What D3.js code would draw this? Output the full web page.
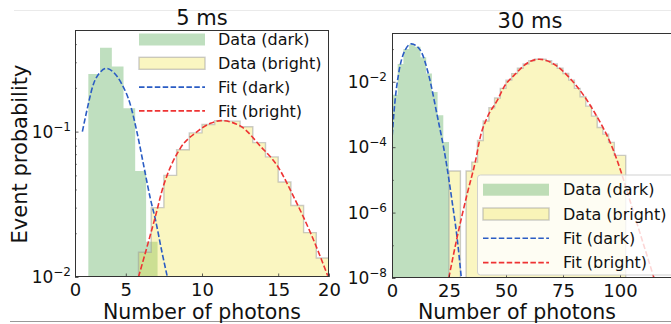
<!DOCTYPE html>
<html>
<head>
<meta charset="utf-8">
<script src="https://cdn.jsdelivr.net/npm/d3@7"></script>
<style>
  body { margin: 0; background: #fff; }
  svg { display: block; }
  text { font-family: "DejaVu Sans", sans-serif; fill: #111; }
</style>
</head>
<body>
<div id="chart"></div>
<script>
// ---- 5 ms panel data ----
var darkEdges5 = [1.05, 1.97, 2.9, 3.82, 4.74, 5.6, 6.5];
var darkProb5 = [0.249, 0.377, 0.28, 0.145, 0.0536, 0.0175];
var brightEdges5 = [5, 6, 7, 8, 9, 10, 11, 12, 13, 14, 15, 16, 17, 18, 19, 20];
var brightProb5 = [0.0148, 0.030, 0.050, 0.075, 0.098, 0.112, 0.119, 0.118, 0.108, 0.084, 0.067, 0.045, 0.031, 0.0202, 0.0135];
var fitDark5X = [0.58, 0.92, 1.45, 1.98, 2.45, 3.03, 3.69, 4.35, 4.87, 5.4, 5.93, 6.32, 6.85, 7.25];
var fitDark5P = [0.100, 0.138, 0.212, 0.256, 0.272, 0.256, 0.212, 0.154, 0.100, 0.059, 0.0347, 0.0251, 0.0148, 0.0102];
var fitBright5X = [5.0, 6.32, 6.98, 7.25, 8.3, 9.62, 10.67, 11.5, 13.04, 14.62, 15.94, 17.26, 18.58, 19.9];
var fitBright5P = [0.0100, 0.0259, 0.0428, 0.050, 0.077, 0.100, 0.114, 0.119, 0.109, 0.079, 0.058, 0.035, 0.0198, 0.0102];
// tick marks sit where the original figure put them
var xTicks5 = [0, 4, 10, 16, 20];
var xTickLabels5 = ["0", "5", "10", "15", "20"];
var yTicks5 = [0.01, 0.1];
var yTickLabels5 = ["\u22122", "\u22121"];
var yMinor5 = [0.02, 0.03, 0.04, 0.05, 0.06, 0.07, 0.08, 0.09, 0.2, 0.3, 0.4];

// ---- 30 ms panel data ----
var darkEdges30 = [0, 2.5, 5, 7.5, 10, 12.5, 15, 17.5, 20, 22.5, 25];
var darkProb30 = [4.0e-3, 3.5e-2, 0.10, 0.138, 0.117, 0.056, 0.0178, 4.9e-3, 9.5e-4, 1.45e-4];
var brightEdges30 = [25, 27.5, 30, 32.5, 35, 37.5, 40, 42.5, 45, 47.5, 50, 52.5, 55, 57.5, 60, 62.5,
                     65, 67.5, 70, 72.5, 75, 77.5, 80, 82.5, 85, 87.5, 90, 92.5, 95, 97.5, 100, 102.5];
var brightProb30 = [1.86e-5, 1.86e-5, 0, 1.86e-5, 3.5e-5, 1.6e-4, 6.3e-4, 1.6e-3, 3.2e-3, 6.3e-3,
                    1.12e-2, 1.78e-2, 2.6e-2, 3.5e-2, 4.4e-2, 4.9e-2, 4.9e-2, 4.4e-2, 3.5e-2, 2.6e-2,
                    1.8e-2, 1.12e-2, 6.3e-3, 3.5e-3, 1.8e-3, 8.9e-4, 4.0e-4, 2.5e-4, 1.4e-4, 5.6e-5, 5.6e-5];
var fitDark30X = [0.1, 1.3, 2.8, 5.75, 8.5, 12.4, 16.1, 19.8, 23.5, 26.4, 28.6, 30.4];
var fitDark30P = [2.3e-4, 2.5e-3, 1.6e-2, 9.3e-2, 0.144, 9.3e-2, 1.6e-2, 9.5e-4, 4.5e-5, 2.1e-6, 1.6e-7, 1e-8];
var fitBright30X = [24.9, 28.6, 33.0, 36.5, 38.9, 41.9, 46.3, 49.2, 53.7, 60.3, 64.7, 70, 78.8, 89.1, 96.5, 98.7, 106.8, 114.9];
var fitBright30P = [1e-8, 1.8e-7, 3.8e-6, 3.5e-5, 2.3e-4, 8.5e-4, 2.8e-3, 7.1e-3, 1.62e-2, 4.1e-2, 4.9e-2, 3.8e-2, 1.12e-2, 1.07e-3, 1.02e-4, 4.0e-5, 6.5e-7, 1e-8];
var xTicks30 = [0, 25, 50, 75, 100];
var yTicks30 = [1e-8, 1e-6, 1e-4, 1e-2];
var yTickLabels30 = ["\u22128", "\u22126", "\u22124", "\u22122"];
var yMinor30 = [1e-7, 1e-5, 1e-3, 1e-1];

var legendLabels = ["Data (dark)", "Data (bright)", "Fit (dark)", "Fit (bright)"];

var W = 671, H = 324;
var green = "rgb(0,128,0)", yellow = "#eedd22";
var blue = "#2a5cc4", red = "#ee3333";

var svg = d3.select("#chart").append("svg")
  .attr("width", W).attr("height", H);

// faint border lines of the source image
svg.append("line").attr("x1", 14).attr("x2", W).attr("y1", 10.5).attr("y2", 10.5)
  .attr("stroke", "#eaeaea");
svg.append("line").attr("x1", 10).attr("x2", W).attr("y1", 321.5).attr("y2", 321.5)
  .attr("stroke", "#999").attr("stroke-width", 1.2);

function stepPoints(edges, probs) {
  var pts = probs.map(function(p, i) { return [edges[i], p]; });
  pts.push([edges[edges.length - 1], probs[probs.length - 1]]);
  return pts;
}

function drawPanel(o) {
  var x = d3.scaleLinear().domain(o.xDomain).range([o.left, o.right]);
  var y = d3.scaleLog().domain(o.yDomain).range([o.bottom, o.top]);
  var g = svg.append("g");

  var clipId = "clip" + o.id;
  svg.append("clipPath").attr("id", clipId).append("rect")
    .attr("x", o.left).attr("y", o.top)
    .attr("width", o.right - o.left).attr("height", o.bottom - o.top);
  var plot = g.append("g").attr("clip-path", "url(#" + clipId + ")");

  function py(p) { return p > 0 ? y(p) : o.bottom; }
  var area = d3.area()
    .x(function(d) { return x(d[0]); })
    .y0(o.bottom)
    .y1(function(d) { return py(d[1]); })
    .curve(d3.curveStepAfter);

  plot.append("path")
    .attr("d", area(stepPoints(o.darkEdges, o.darkProb)))
    .attr("fill", green).attr("fill-opacity", 0.25);
  plot.append("path")
    .attr("d", area(stepPoints(o.brightEdges, o.brightProb)))
    .attr("fill", yellow).attr("fill-opacity", 0.28)
    .attr("stroke", "#999").attr("stroke-opacity", 0.5).attr("stroke-width", 1.4);

  var line = d3.line()
    .x(function(d) { return x(d[0]); })
    .y(function(d) { return y(d[1]); })
    .curve(d3.curveMonotoneX);

  plot.append("path")
    .attr("d", line(o.fitDarkX.map(function(v, i) { return [v, o.fitDarkP[i]]; })))
    .attr("fill", "none").attr("stroke", blue).attr("stroke-width", 1.6)
    .attr("stroke-dasharray", "5.5,2.4");
  plot.append("path")
    .attr("d", line(o.fitBrightX.map(function(v, i) { return [v, o.fitBrightP[i]]; })))
    .attr("fill", "none").attr("stroke", red).attr("stroke-width", 1.6)
    .attr("stroke-dasharray", "5.5,2.4");

  // axes: ticks inward, no domain path (frame drawn below)
  var xAxis = d3.axisBottom(x).tickValues(o.xTicks).tickSizeInner(-3.5).tickSizeOuter(0)
    .tickFormat(function(d, i) { return o.xTickLabels[i]; });
  var gx = g.append("g").attr("transform", "translate(0," + o.bottom + ")").call(xAxis);
  gx.select(".domain").remove();
  gx.selectAll(".tick line").attr("stroke", "#333").attr("stroke-width", 0.8);
  gx.selectAll(".tick text").attr("y", 18.5).attr("dy", null)
    .style("font-size", "18px").style("font-family", "DejaVu Sans").attr("fill", "#111");

  var yAxis = d3.axisLeft(y).tickValues(o.yTicks).tickSizeInner(-3.5).tickSizeOuter(0)
    .tickFormat("");
  var gy = g.append("g").attr("transform", "translate(" + o.left + ",0)").call(yAxis);
  gy.select(".domain").remove();
  gy.selectAll(".tick line").attr("stroke", "#333").attr("stroke-width", 0.8);
  var gyMinor = g.append("g").attr("transform", "translate(" + o.left + ",0)")
    .call(d3.axisLeft(y).tickValues(o.yMinor).tickSizeInner(-2).tickSizeOuter(0).tickFormat(""));
  gyMinor.select(".domain").remove();
  gyMinor.selectAll(".tick line").attr("stroke", "#333").attr("stroke-width", 0.6);

  o.yTicks.forEach(function(t, i) {
    var tx = g.append("text")
      .attr("x", o.left - o.labelPad).attr("y", y(t) + 6)
      .attr("text-anchor", "end").style("font-size", "17px");
    tx.append("tspan").text("10");
    tx.append("tspan").attr("dy", -7).style("font-size", "12px").text(o.yTickLabels[i]);
  });

  g.append("rect")
    .attr("x", o.left + 0.5).attr("y", o.top + 0.5)
    .attr("width", o.right - o.left - 1).attr("height", o.bottom - o.top - 1)
    .attr("fill", "none").attr("stroke", "#333").attr("stroke-width", 1);

  g.append("text").attr("x", o.titleX).attr("y", o.top - 5)
    .attr("text-anchor", "middle").style("font-size", "21px").text(o.title);
  g.append("text").attr("x", o.xLabelX).attr("y", 319)
    .attr("text-anchor", "middle").style("font-size", "20.5px").text("Number of photons");

  // legend
  var L = o.legend;
  var lg = g.append("g");
  if (L.frame) {
    lg.append("rect").attr("x", L.frame[0]).attr("y", L.frame[1])
      .attr("width", L.frame[2]).attr("height", L.frame[3]).attr("rx", 3)
      .attr("fill", "#fff").attr("fill-opacity", 0.8)
      .attr("stroke", "#ccc").attr("stroke-opacity", 0.9);
  }
  legendLabels.forEach(function(lab, i) {
    var cy = L.rows[i];
    if (i === 0) {
      lg.append("rect").attr("x", L.hx).attr("y", cy - 6).attr("width", 66).attr("height", 12)
        .attr("fill", green).attr("fill-opacity", 0.25);
    } else if (i === 1) {
      lg.append("rect").attr("x", L.hx).attr("y", cy - 6).attr("width", 66).attr("height", 12)
        .attr("fill", yellow).attr("fill-opacity", 0.28)
        .attr("stroke", "#999").attr("stroke-opacity", 0.5).attr("stroke-width", 1.4);
    } else {
      lg.append("line").attr("x1", L.hx).attr("x2", L.hx + 66).attr("y1", cy).attr("y2", cy)
        .attr("stroke", i === 2 ? blue : red).attr("stroke-width", 1.6)
        .attr("stroke-dasharray", "5.5,2.4");
    }
    lg.append("text").attr("x", L.tx).attr("y", cy).attr("dy", "0.36em")
      .style("font-size", "16px").text(lab);
  });
}

drawPanel({
  id: 5, title: "5 ms",
  left: 75, right: 329, top: 30, bottom: 277,
  xDomain: [0, 20], yDomain: [0.01, 0.5],
  darkEdges: darkEdges5, darkProb: darkProb5,
  brightEdges: brightEdges5, brightProb: brightProb5,
  fitDarkX: fitDark5X, fitDarkP: fitDark5P,
  fitBrightX: fitBright5X, fitBrightP: fitBright5P,
  xTicks: xTicks5, xTickLabels: xTickLabels5,
  yTicks: yTicks5, yTickLabels: yTickLabels5, yMinor: yMinor5,
  labelPad: 4, titleX: 202, xLabelX: 202,
  legend: { frame: null, hx: 139, tx: 218, rows: [39.5, 63.3, 87.1, 110.9] }
});

drawPanel({
  id: 30, title: "30 ms",
  left: 392, right: 672, top: 33, bottom: 278,
  xDomain: [0, 122.8], yDomain: [1e-8, 0.31],
  darkEdges: darkEdges30, darkProb: darkProb30,
  brightEdges: brightEdges30, brightProb: brightProb30,
  fitDarkX: fitDark30X, fitDarkP: fitDark30P,
  fitBrightX: fitBright30X, fitBrightP: fitBright30P,
  xTicks: xTicks30, xTickLabels: xTicks30.map(String),
  yTicks: yTicks30, yTickLabels: yTickLabels30, yMinor: yMinor30,
  labelPad: 5, titleX: 530, xLabelX: 517,
  legend: { frame: [477.5, 175, 210, 100], hx: 483, tx: 563, rows: [189.7, 214, 238.3, 262.6] }
});

svg.append("text")
  .attr("transform", "translate(27,154) rotate(-90)")
  .attr("text-anchor", "middle").style("font-size", "21px").text("Event probability");
</script>
</body>
</html>
